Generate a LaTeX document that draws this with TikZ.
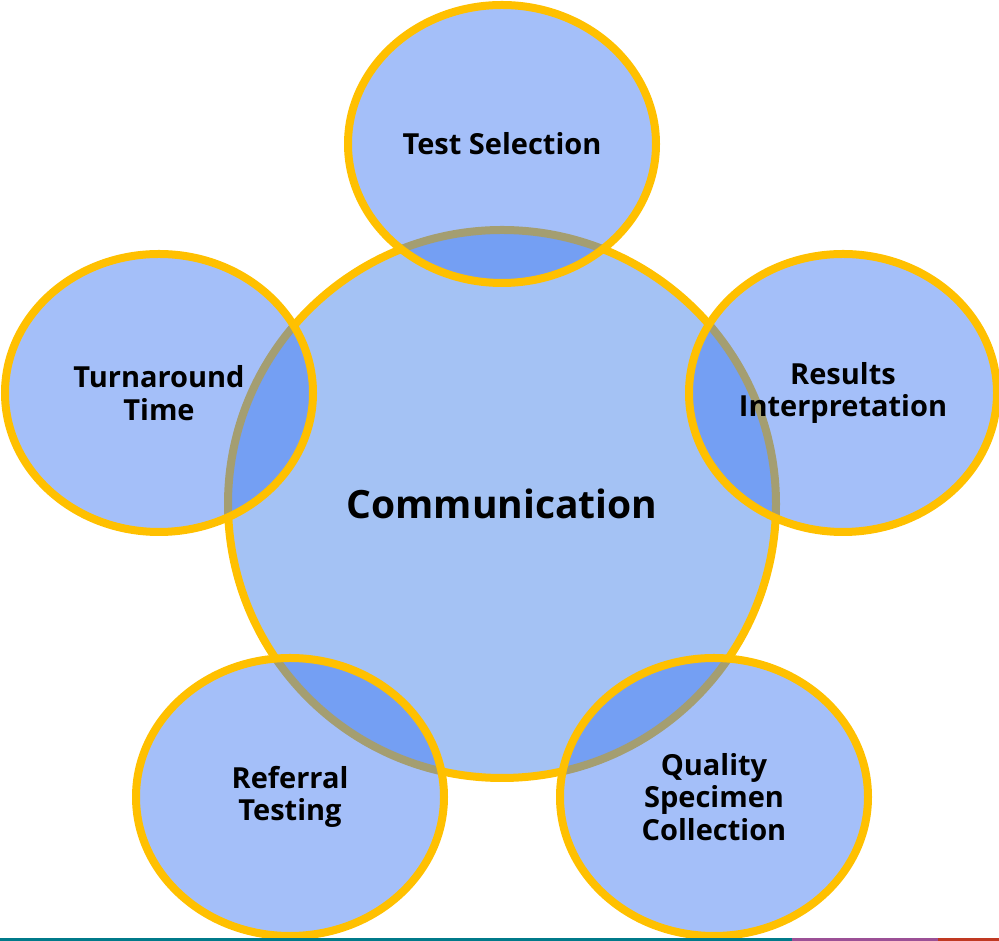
\documentclass[tikz,border=0pt]{standalone}
\usepackage{fontspec}
\setmainfont{Open Sans}
\usetikzlibrary{shapes.geometric}

\definecolor{petalblue}{RGB}{164,194,244}
\definecolor{overlapblue}{RGB}{62,120,242}
\definecolor{ringgold}{RGB}{255,192,0}
\definecolor{stripteal}{RGB}{0,122,138}
\definecolor{strippurple}{RGB}{155,80,150}
\definecolor{stripred}{RGB}{192,57,34}

\tikzset{
  hub/.style={circle, draw=ringgold, fill=petalblue, line width=8pt,
    minimum size=548pt, inner sep=0pt,
    font=\fontsize{39}{41}\selectfont\bfseries},
  petal/.style={ellipse, draw=ringgold, fill=overlapblue, fill opacity=0.47,
    draw opacity=1, text opacity=1, line width=8pt,
    minimum width=308pt, minimum height=278pt, inner sep=0pt, align=center,
    font=\fontsize{29}{32.5}\selectfont\bfseries}
}

\begin{document}
\begin{tikzpicture}[x=1pt, y=1pt]
  \useasboundingbox (0,0) rectangle (999,941);

  % Centre circle first, petals drawn over it
  \node[hub] (comm) at (502,437) {Communication};

  \foreach \pos/\name/\txt in {
      {(502,797)}/testsel/{Test Selection},
      {(843,548)}/results/{Results\\Interpretation},
      {(714,144)}/quality/{Quality\\Specimen\\Collection},
      {(290,144)}/referral/{Referral\\Testing},
      {(159,548)}/turnaround/{Turnaround\\Time}} {
    \node[petal] (\name) at \pos {\txt};
  }

  % Coloured strip along the bottom edge
  \fill[stripteal] (0,0) rectangle (792,3);
  \fill[strippurple] (792,0) rectangle (938,3);
  \fill[stripred] (938,0) rectangle (999,3);
\end{tikzpicture}
\end{document}
